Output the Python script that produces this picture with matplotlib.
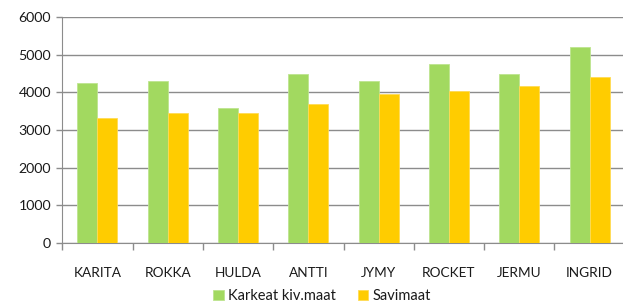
import matplotlib.pyplot as plt
import numpy as np

plt.rcParams['font.family'] = ['Lato', 'DejaVu Sans']

nimet = ['KARITA', 'ROKKA', 'HULDA', 'ANTTI', 'JYMY', 'ROCKET', 'JERMU', 'INGRID']
karkeat = [4240, 4290, 3575, 4485, 4300, 4750, 4480, 5195]
savimaat = [3310, 3440, 3440, 3700, 3950, 4035, 4160, 4400]

vihrea = '#A2D960'
keltainen = '#FFCC00'
harmaa = '#8C8C8C'

fig = plt.figure(figsize=(6.23, 3.04), dpi=100)
ax = fig.add_axes([62.3/623, 61/304, 562.4/623, 226/304])

x = np.arange(len(nimet))
lev = 0.285
ax.bar(x - lev/2, karkeat, lev, color=vihrea, edgecolor='#BDE58F', linewidth=0.6,
       label='Karkeat kiv.maat', zorder=3)
ax.bar(x + lev/2, savimaat, lev, color=keltainen, edgecolor='#FFDB55', linewidth=0.6,
       label='Savimaat', zorder=3)

ax.set_xlim(-0.5, len(nimet) - 0.5)
ax.set_ylim(0, 6000)
ax.set_yticks(range(0, 6001, 1000))
ax.yaxis.grid(True, color=harmaa, linewidth=1)
ax.set_axisbelow(True)

ax.set_xticks(x)
ax.set_xticklabels(nimet)
ax.set_xticks(np.arange(-0.5, len(nimet)), minor=True)
ax.tick_params(axis='x', which='major', length=0, pad=17, labelsize=9.8, colors='#1a1a1a')
ax.tick_params(axis='x', which='minor', length=5, color=harmaa, width=1)
ax.tick_params(axis='y', length=4, color=harmaa, width=1, labelsize=10.2, pad=4,
               labelcolor='#1a1a1a')

for s in ['top', 'right']:
    ax.spines[s].set_visible(False)
ax.spines['left'].set_color(harmaa)
ax.spines['bottom'].set_color(harmaa)

leg = fig.legend(loc='center', bbox_to_anchor=(0.517, 0.027), ncol=2, frameon=False,
                 handlelength=0.7, handleheight=0.7, handletextpad=0.3, columnspacing=1.5,
                 fontsize=10.5, borderaxespad=0)
for t in leg.get_texts():
    t.set_color('#1a1a1a')

fig.savefig('out.png', dpi=100)
